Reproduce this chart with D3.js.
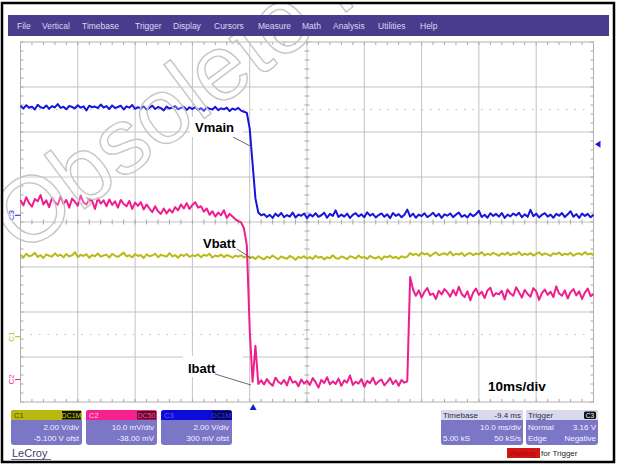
<!DOCTYPE html>
<html>
<head>
<meta charset="utf-8">
<script src="https://cdn.jsdelivr.net/npm/d3@7"></script>
<style>
  html, body { margin: 0; padding: 0; background: #ffffff; }
  svg { display: block; }
</style>
</head>
<body>
<svg id="scope" width="617" height="465"></svg>
<script>
// ---- acquisition settings ----
const timePerDivMs = 10;
const triggerDelayMs = -9.4;
const sampleStartMs = -40.6;
const sampleStepMs = 0.5;
const triggerLevelV = 3.16;

// ---- channels: C1 = Vbatt, C2 = Ibatt, C3 = Vmain ----
const channelNames = ["C1", "C2", "C3"];
const channelCoupling = ["DC1M", "DC50", "DC1M"];
const voltsPerDiv = [2.0, 10.0, 2.0];
const channelOffsets = [-5.1, -38.0, 0.3];
const groundLevels = [0, 3, 0];
const channelScaleText = ["2.00 V/div", "10.0 mV/div", "2.00 V/div"];
const channelOffsetText = ["-5.100 V ofst", "-38.00 mV", "300 mV ofst"];

// C1: battery voltage (V)
const vbattV = [
  3.64, 3.52, 3.69, 3.58, 3.61, 3.73, 3.55, 3.63, 3.50, 3.66, 3.60, 3.56, 3.71, 3.59, 3.65, 3.53, 3.68, 3.57, 3.62, 3.76,
  3.54, 3.64, 3.59, 3.67, 3.51, 3.63, 3.58, 3.70, 3.56, 3.61, 3.65, 3.52, 3.68, 3.60, 3.55, 3.64, 3.74, 3.57, 3.62, 3.53,
  3.67, 3.59, 3.63, 3.50, 3.66, 3.58, 3.61, 3.69, 3.54, 3.64, 3.60, 3.56, 3.72, 3.57, 3.63, 3.51, 3.65, 3.59, 3.68, 3.55,
  3.62, 3.58, 3.66, 3.53, 3.64, 3.60, 3.69, 3.52, 3.61, 3.57, 3.65, 3.54, 3.63, 3.59, 3.51, 3.60, 3.56, 3.62, 3.53, 3.58, 3.50,
  3.55, 3.46, 3.58, 3.50, 3.44, 3.56, 3.49, 3.61, 3.52, 3.45, 3.57, 3.51, 3.47, 3.59, 3.53, 3.42, 3.55, 3.50, 3.58, 3.48,
  3.54, 3.46, 3.60, 3.51, 3.56, 3.44, 3.53, 3.49, 3.62, 3.50, 3.47, 3.57, 3.52, 3.45, 3.58, 3.54, 3.48, 3.61, 3.51, 3.55,
  3.46, 3.59, 3.52, 3.48, 3.56, 3.43, 3.57, 3.53, 3.60, 3.50, 3.55, 3.47, 3.58, 3.52, 3.56,
  3.72, 3.63, 3.69, 3.60, 3.74, 3.66, 3.70, 3.58, 3.68, 3.75, 3.62, 3.67, 3.71, 3.64, 3.78, 3.61, 3.69, 3.65, 3.73, 3.59,
  3.68, 3.72, 3.63, 3.70, 3.66, 3.76, 3.61, 3.69, 3.64, 3.73, 3.67, 3.60, 3.71, 3.65, 3.74, 3.62, 3.70, 3.66, 3.77, 3.63,
  3.69, 3.64, 3.72, 3.61, 3.68, 3.75, 3.63, 3.70, 3.66, 3.59, 3.71, 3.67, 3.74, 3.62, 3.69, 3.65, 3.73, 3.60, 3.68, 3.71,
  3.64, 3.76, 3.66, 3.70, 3.63
];

// C2: battery current probe (mV)
const ibattMv = [
  42.9, 41.7, 43.5, 42.2, 41.4, 43.1, 42.6, 44.0, 41.9, 42.8, 41.3, 43.4, 42.4, 41.8, 43.7, 42.0, 42.9, 41.2, 43.2, 42.5,
  41.6, 43.9, 42.3, 41.9, 43.0, 42.7, 40.9, 43.3, 42.1, 42.8, 41.5,
  43.0, 41.8, 42.6, 41.2, 42.9, 42.0, 41.5, 42.7, 40.9, 42.3, 41.6, 42.4, 40.8, 41.9,
  41.0, 40.2, 41.5, 40.4, 39.8, 41.0,
  39.9, 40.8, 40.1, 41.3, 40.6, 41.9, 41.0,
  42.2, 40.9, 41.8, 42.4, 41.2,
  41.5, 40.3, 41.0, 39.6,
  40.4, 39.2, 40.1, 39.5, 40.6, 38.9, 39.8, 39.2, 38.6,
  38.2, 37.9, 36.6, 32.8, 14.1, 2.5, 10.5, 2.0,
  2.8, 1.9, 3.1, 2.2, 1.6, 3.4, 2.5, 2.0, 2.9, 1.7,
  3.6, 2.3, 2.6, 1.5, 3.0, 2.1, 2.7, 1.8, 3.3, 2.4,
  1.2, 2.9, 2.2, 3.5, 1.9, 2.6, 2.0, 3.2, 1.6, 2.8,
  2.3, 3.9, 1.8, 2.5, 2.1, 3.1, 1.4, 2.7, 2.2, 3.4,
  1.9, 2.6, 3.0, 1.7, 2.4, 3.3, 2.0, 2.8, 1.6, 2.9,
  2.3, 2.6, 25.8,
  23.0, 21.6, 22.8, 21.2, 22.5, 23.3, 21.8, 22.1, 20.9, 22.7,
  21.9, 23.1, 22.4, 21.4, 22.9, 21.7, 23.6, 22.0, 21.3, 22.6,
  20.6, 22.3, 23.2, 21.8, 22.5, 21.1, 22.8, 23.4, 21.5, 22.2,
  21.9, 22.7, 20.8, 23.0, 22.1, 21.6, 23.5, 22.4, 21.2, 22.9,
  22.0, 21.4, 23.3, 22.6, 20.7, 22.2, 23.0, 21.8, 22.5, 21.3,
  23.7, 22.1, 21.6, 22.8, 21.0, 22.4, 23.1, 21.7, 22.6, 20.9,
  22.3, 23.2, 21.5, 22.0
];

// C3: main supply voltage (V)
const vmainV = [
  4.87, 4.74, 4.89, 4.78, 4.83, 4.70, 4.91, 4.80, 4.76, 4.88, 4.73, 4.85, 4.79, 4.94, 4.77, 4.82, 4.71, 4.86, 4.81, 4.75,
  4.89, 4.78, 4.84, 4.66, 4.87, 4.80, 4.83, 4.76, 4.92, 4.79, 4.85, 4.72, 4.88, 4.77, 4.81, 4.87, 4.70, 4.84, 4.78, 4.90,
  4.73, 4.80, 4.75, 4.84, 4.69, 4.78, 4.87, 4.72, 4.81, 4.76, 4.66, 4.83, 4.74, 4.79, 4.85, 4.71, 4.77, 4.82, 4.68, 4.80,
  4.72, 4.81, 4.68, 4.76, 4.64, 4.79, 4.73, 4.70, 4.82, 4.67, 4.75, 4.71, 4.78, 4.63, 4.74, 4.69, 4.77, 4.65, 4.60,
  4.55, 3.85, 2.30, 0.75, 0.12, 0.00,
  0.05, -0.08, 0.02, -0.12, 0.07, -0.04, 0.10, -0.09, 0.01, -0.06, 0.12, -0.10, 0.03, -0.02, 0.08, -0.13, 0.04, -0.05, 0.09, -0.07,
  0.00, 0.11, -0.11, 0.06, -0.03, 0.22, -0.08, 0.03, -0.06, 0.07, -0.12, 0.02, 0.09, -0.05, 0.04, -0.09, 0.13, -0.02, 0.06, -0.10,
  0.01, 0.08, -0.07, 0.04, -0.13, 0.10, -0.03, 0.05, -0.09, 0.02, 0.25, -0.06, 0.07, -0.11, 0.03, -0.04, 0.09, -0.08, 0.00, 0.11,
  -0.05, 0.06, -0.12, 0.04, -0.02, 0.08, -0.09, 0.03, 0.12, -0.07, 0.01, -0.10, 0.07, -0.04, 0.05, 0.20, -0.08, 0.02, -0.11, 0.09,
  -0.03, 0.06, -0.06, 0.10, -0.12, 0.03, -0.05, 0.08, -0.01, 0.11, -0.09, 0.04, -0.07, 0.24, -0.04, 0.07, -0.10, 0.02, 0.09, -0.06,
  0.03, -0.11, 0.06, -0.02, 0.10, -0.08, 0.04, 0.18, -0.07, 0.05, -0.12, 0.08, -0.03, 0.06, -0.09, 0.02
];

const traceData = [vbattV, ibattMv, vmainV];
const traceColors = ["#b9b917", "#ee1e8e", "#1515dc"];
const panelHeaderColors = ["#b8b810", "#f7208f", "#0c0cd8"];
const panelTagColors = ["#121200", "#5c0a2c", "#06064a"];
const panelTagText = ["#d8d820", "#ff4aa8", "#3a3aff"];
const drawOrder = [0, 2, 1];

const menuItems = ["File", "Vertical", "Timebase", "Trigger", "Display", "Cursors", "Measure", "Math", "Analysis", "Utilities", "Help"];
const menuX = [17, 42, 82, 135, 173, 214, 258, 302, 333, 378, 420];

// ---- layout ----
const grid = { left: 20.5, right: 593.5, top: 42, bottom: 402 };
const divsX = 10, divsY = 8;
const FONT = "'Liberation Sans', Arial, Helvetica, sans-serif";

const svg = d3.select("#scope");

// scales
const x = d3.scaleLinear()
  .domain([-divsX / 2 * timePerDivMs - triggerDelayMs, divsX / 2 * timePerDivMs - triggerDelayMs])
  .range([grid.left, grid.right]);
const ys = voltsPerDiv.map((vpd, i) => {
  const center = -channelOffsets[i];
  return d3.scaleLinear()
    .domain([center - divsY / 2 * vpd, center + divsY / 2 * vpd])
    .range([grid.bottom, grid.top]);
});
const gx = d3.scaleLinear().domain([0, divsX]).range([grid.left, grid.right]);
const gy = d3.scaleLinear().domain([0, divsY]).range([grid.bottom, grid.top]);

svg.append("defs").append("clipPath").attr("id", "frameClip")
  .append("rect").attr("x", 3).attr("y", 4).attr("width", 610).attr("height", 457);

// outer frame background
svg.append("rect").attr("x", 2).attr("y", 3).attr("width", 612).attr("height", 459)
  .attr("fill", "#ffffff");

// ---- graticule ----
const gGrid = svg.append("g");
gGrid.selectAll("line.v").data(d3.range(1, divsX)).join("line")
  .attr("x1", d => gx(d)).attr("x2", d => gx(d))
  .attr("y1", grid.top).attr("y2", grid.bottom)
  .attr("stroke", "#c3c3c3").attr("stroke-width", 1);
gGrid.selectAll("line.h").data(d3.range(1, divsY)).join("line")
  .attr("y1", d => gy(d)).attr("y2", d => gy(d))
  .attr("x1", grid.left).attr("x2", grid.right)
  .attr("stroke", "#c3c3c3").attr("stroke-width", 1);

// dotted reference rows
gGrid.selectAll("line.dot").data([divsY / 2 - 2.5, divsY / 2 + 2.5]).join("line")
  .attr("y1", d => gy(d)).attr("y2", d => gy(d))
  .attr("x1", grid.left + 10).attr("x2", grid.right - 8)
  .attr("stroke", "#bdbdbd").attr("stroke-width", 1).attr("stroke-dasharray", "1.5,7");

// minor ticks: center axes and borders
const minorX = d3.range(0, divsX * 5 + 1).map(k => k / 5);
const minorY = d3.range(0, divsY * 5 + 1).map(k => k / 5);
const tickColor = "#a8a8a8";
gGrid.selectAll("line.tcx").data(minorX).join("line")
  .attr("x1", d => gx(d)).attr("x2", d => gx(d))
  .attr("y1", gy(divsY / 2) - 2.5).attr("y2", gy(divsY / 2) + 2.5)
  .attr("stroke", tickColor);
gGrid.selectAll("line.tcy").data(minorY).join("line")
  .attr("y1", d => gy(d)).attr("y2", d => gy(d))
  .attr("x1", gx(divsX / 2) - 2.5).attr("x2", gx(divsX / 2) + 2.5)
  .attr("stroke", tickColor);
gGrid.selectAll("line.tbx").data(minorX).join("line")
  .attr("x1", d => gx(d)).attr("x2", d => gx(d))
  .attr("y1", grid.bottom - 3).attr("y2", grid.bottom)
  .attr("stroke", tickColor);
gGrid.selectAll("line.ttx").data(minorX).join("line")
  .attr("x1", d => gx(d)).attr("x2", d => gx(d))
  .attr("y1", grid.top).attr("y2", grid.top + 3)
  .attr("stroke", tickColor);
gGrid.selectAll("line.tly").data(minorY).join("line")
  .attr("y1", d => gy(d)).attr("y2", d => gy(d))
  .attr("x1", grid.left).attr("x2", grid.left + 3)
  .attr("stroke", tickColor);
gGrid.selectAll("line.try").data(minorY).join("line")
  .attr("y1", d => gy(d)).attr("y2", d => gy(d))
  .attr("x1", grid.right - 3).attr("x2", grid.right)
  .attr("stroke", tickColor);

gGrid.append("rect")
  .attr("x", grid.left).attr("y", grid.top)
  .attr("width", grid.right - grid.left).attr("height", grid.bottom - grid.top)
  .attr("fill", "none").attr("stroke", "#b0b0b0").attr("stroke-width", 1);

// ---- annotation boxes (behind traces) ----
const notes = [
  { text: "Vmain", box: [190, 117, 53, 20], tx: 195, ty: 132, from: [233, 137], to: [252, 147] },
  { text: "Vbatt", box: [198, 234, 42, 17], tx: 203, ty: 248, from: [237, 249], to: [251, 258] },
  { text: "Ibatt", box: [183, 356, 60, 21], tx: 188, ty: 373, from: [215, 374], to: [251, 385] }
];
svg.append("g").selectAll("rect").data(notes).join("rect")
  .attr("x", d => d.box[0]).attr("y", d => d.box[1])
  .attr("width", d => d.box[2]).attr("height", d => d.box[3])
  .attr("fill", "#ffffff");

// ---- traces ----
const gTr = svg.append("g");
drawOrder.forEach(ci => {
  const line = d3.line()
    .x((d, i) => x(sampleStartMs + i * sampleStepMs))
    .y(d => ys[ci](d));
  gTr.append("path")
    .datum(traceData[ci])
    .attr("d", line)
    .attr("fill", "none")
    .attr("stroke", traceColors[ci])
    .attr("stroke-width", 2)
    .attr("stroke-linejoin", "round");
});

// leader lines and labels
const gNotes = svg.append("g");
gNotes.selectAll("line").data(notes).join("line")
  .attr("x1", d => d.from[0]).attr("y1", d => d.from[1])
  .attr("x2", d => d.to[0]).attr("y2", d => d.to[1])
  .attr("stroke", "#5a5a5a").attr("stroke-width", 0.9);
gNotes.selectAll("text").data(notes).join("text")
  .attr("x", d => d.tx).attr("y", d => d.ty)
  .attr("font-family", FONT).attr("font-weight", "bold").attr("font-size", 13)
  .attr("fill", "#000000").text(d => d.text);
svg.append("text").attr("x", 488).attr("y", 391)
  .attr("font-family", FONT).attr("font-weight", "bold").attr("font-size", 13.5)
  .attr("fill", "#000000").text("10ms/div");

// ---- channel ground markers on the left edge ----
const gMk = svg.append("g");
channelNames.forEach((name, ci) => {
  const yy = ys[ci](groundLevels[ci]);
  gMk.append("line").attr("x1", 15).attr("x2", grid.left).attr("y1", yy).attr("y2", yy)
    .attr("stroke", traceColors[ci]).attr("stroke-width", 1);
  gMk.append("text")
    .attr("transform", `translate(14,${yy}) rotate(-90)`)
    .attr("text-anchor", "middle")
    .attr("font-family", FONT).attr("font-size", 8)
    .attr("fill", traceColors[ci]).text(name);
});

// trigger position (bottom) and trigger level (right) markers
const tX = x(0);
svg.append("path")
  .attr("d", `M${tX},${grid.bottom + 2} L${tX - 3.5},${grid.bottom + 8} L${tX + 3.5},${grid.bottom + 8} Z`)
  .attr("fill", "#1a1ad0");
const tY = ys[2](triggerLevelV);
svg.append("path")
  .attr("d", `M${grid.right + 1.5},${tY} L${grid.right + 7},${tY - 3.5} L${grid.right + 7},${tY + 3.5} Z`)
  .attr("fill", "#1a1ad0");

// ---- watermark (under the menu bar, clipped to the frame) ----
svg.append("g").attr("clip-path", "url(#frameClip)")
  .append("text")
  .attr("transform", "translate(22,256) rotate(-37)")
  .attr("font-family", FONT).attr("font-size", 93)
  .attr("fill", "#ffffff").attr("fill-opacity", 0.25)
  .attr("stroke", "#c6c6c6").attr("stroke-width", 1.4)
  .text("Obsolete Product");

// menu bar
svg.append("rect").attr("x", 8).attr("y", 15).attr("width", 601).attr("height", 21).attr("fill", "#4a3c8d");
svg.append("g").selectAll("text").data(menuItems).join("text")
  .attr("x", (d, i) => menuX[i]).attr("y", 28.5)
  .attr("font-family", FONT).attr("font-size", 8.5).attr("fill", "#d9d7f2")
  .text(d => d);

// outer frame border
svg.append("rect").attr("x", 2).attr("y", 3).attr("width", 612).attr("height", 459)
  .attr("fill", "none").attr("stroke", "#000000").attr("stroke-width", 2.5);

// ---- channel panels ----
const panelX = [11, 86, 161];
const panelTop = 410, panelW = 71, panelH = 35, headH = 10;
const bodyColor = "#7c76c6";
const gP = svg.append("g");
channelNames.forEach((name, ci) => {
  const px = panelX[ci];
  gP.append("rect").attr("x", px).attr("y", panelTop).attr("width", panelW).attr("height", panelH)
    .attr("rx", 3).attr("fill", bodyColor);
  gP.append("rect").attr("x", px).attr("y", panelTop).attr("width", panelW).attr("height", headH)
    .attr("rx", 3).attr("fill", panelHeaderColors[ci]);
  gP.append("rect").attr("x", px).attr("y", panelTop + 4).attr("width", panelW).attr("height", headH - 4)
    .attr("fill", panelHeaderColors[ci]);
  gP.append("rect").attr("x", px + panelW - 20).attr("y", panelTop + 1).attr("width", 19).attr("height", 8.5)
    .attr("fill", panelTagColors[ci]);
  gP.append("text").attr("x", px + 3).attr("y", panelTop + 8)
    .attr("font-family", FONT).attr("font-size", 7.5)
    .attr("fill", ci === 0 ? "#4a4a00" : (ci === 1 ? "#ffd0e8" : "#6060ff")).text(name);
  gP.append("text").attr("x", px + panelW - 10.5).attr("y", panelTop + 8)
    .attr("text-anchor", "middle")
    .attr("font-family", FONT).attr("font-size", 7).attr("fill", panelTagText[ci])
    .text(channelCoupling[ci]);
  gP.append("text").attr("x", px + panelW - 3).attr("y", panelTop + 20)
    .attr("text-anchor", "end").attr("font-family", FONT).attr("font-size", 8)
    .attr("fill", "#f2f2ff").text(channelScaleText[ci]);
  gP.append("text").attr("x", px + panelW - 3).attr("y", panelTop + 31)
    .attr("text-anchor", "end").attr("font-family", FONT).attr("font-size", 8)
    .attr("fill", "#f2f2ff").text(channelOffsetText[ci]);
});

// timebase / trigger panels
const infoPanels = [
  { x: 441, w: 82, head: ["Timebase", "-9.4 ms"], rows: [["", "10.0 ms/div"], ["5.00 kS", "50 kS/s"]], tag: null },
  { x: 526, w: 72, head: ["Trigger", ""], rows: [["Normal", "3.16 V"], ["Edge", "Negative"]], tag: "C3" }
];
infoPanels.forEach(p => {
  gP.append("rect").attr("x", p.x).attr("y", panelTop).attr("width", p.w).attr("height", panelH)
    .attr("rx", 3).attr("fill", bodyColor);
  gP.append("rect").attr("x", p.x).attr("y", panelTop).attr("width", p.w).attr("height", headH)
    .attr("rx", 3).attr("fill", "#d9d9ee");
  gP.append("rect").attr("x", p.x).attr("y", panelTop + 4).attr("width", p.w).attr("height", headH - 4)
    .attr("fill", "#d9d9ee");
  gP.append("text").attr("x", p.x + 2).attr("y", panelTop + 8)
    .attr("font-family", FONT).attr("font-size", 8).attr("fill", "#2a2a48").text(p.head[0]);
  if (p.head[1]) {
    gP.append("text").attr("x", p.x + p.w - 2).attr("y", panelTop + 8).attr("text-anchor", "end")
      .attr("font-family", FONT).attr("font-size", 8).attr("fill", "#2a2a48").text(p.head[1]);
  }
  if (p.tag) {
    gP.append("rect").attr("x", p.x + p.w - 14).attr("y", panelTop + 1.5).attr("width", 12).attr("height", 7.5)
      .attr("rx", 1.5).attr("fill", "#101018");
    gP.append("text").attr("x", p.x + p.w - 8).attr("y", panelTop + 8).attr("text-anchor", "middle")
      .attr("font-family", FONT).attr("font-size", 6.5).attr("fill", "#ffffff").text(p.tag);
  }
  p.rows.forEach((r, ri) => {
    const yy = panelTop + 20 + ri * 11;
    if (r[0]) gP.append("text").attr("x", p.x + 2).attr("y", yy)
      .attr("font-family", FONT).attr("font-size", 8).attr("fill", "#f2f2ff").text(r[0]);
    gP.append("text").attr("x", p.x + p.w - 2).attr("y", yy).attr("text-anchor", "end")
      .attr("font-family", FONT).attr("font-size", 8).attr("fill", "#f2f2ff").text(r[1]);
  });
});

// status line
svg.append("rect").attr("x", 507).attr("y", 448).attr("width", 33).attr("height", 10).attr("fill", "#d21616");
svg.append("text").attr("x", 509).attr("y", 456).attr("font-family", FONT).attr("font-size", 8)
  .attr("fill", "#b00808").text("Waiting");
svg.append("text").attr("x", 541).attr("y", 456).attr("font-family", FONT).attr("font-size", 8)
  .attr("fill", "#1e1e1e").text("for Trigger");

// brand
svg.append("text").attr("x", 12).attr("y", 457).attr("font-family", FONT).attr("font-size", 11)
  .attr("fill", "#40406e").text("LeCroy");
svg.append("line").attr("x1", 11).attr("x2", 51).attr("y1", 459.5).attr("y2", 459.5)
  .attr("stroke", "#40406e").attr("stroke-width", 0.8);
</script>
</body>
</html>
